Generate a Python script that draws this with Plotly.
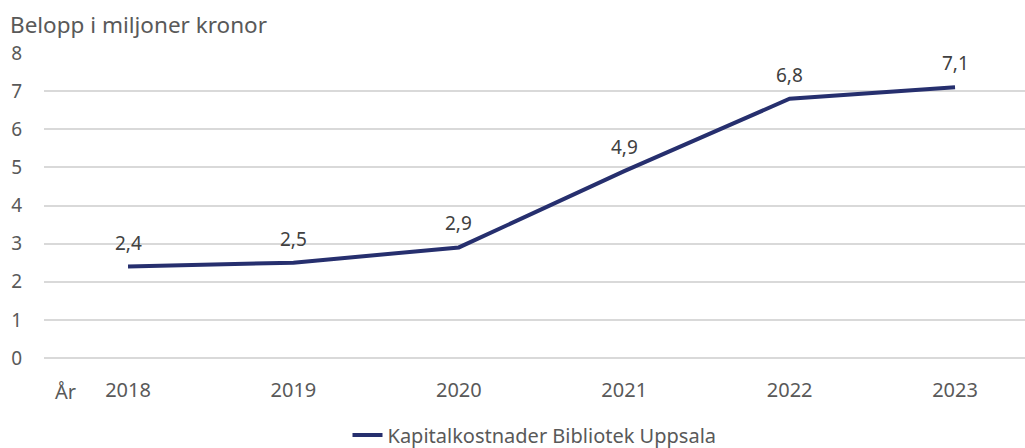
import plotly.graph_objects as go

years = ["2018", "2019", "2020", "2021", "2022", "2023"]
values = [2.4, 2.5, 2.9, 4.9, 6.8, 7.1]
labels = ["2,4", "2,5", "2,9", "4,9", "6,8", "7,1"]
series_name = "Kapitalkostnader Bibliotek Uppsala"
y_title = "Belopp i miljoner kronor"
x_title = "År"

FONT = "Noto Sans"
GREY = "#595959"
NAVY = "#262F6E"

xs = list(range(len(years)))

fig = go.Figure()
fig.add_trace(go.Scatter(
    x=xs, y=values, mode="lines",
    name=series_name,
    line=dict(color=NAVY, width=4),
))

for xi, yi, lab in zip(xs, values, labels):
    fig.add_annotation(x=xi, y=yi, text=lab, showarrow=False, yshift=24,
                       xanchor="center", yanchor="middle",
                       font=dict(family=FONT, size=19, color="#404040"))

fig.update_layout(
    width=1025, height=448,
    margin=dict(l=44, r=0, t=53, b=90, autoexpand=False),
    paper_bgcolor="white", plot_bgcolor="white",
    font=dict(family=FONT, size=19, color=GREY),
    showlegend=True,
    legend=dict(orientation="h", x=0.5, xanchor="center",
                y=(358 - 435) / 305, yanchor="middle",
                font=dict(family=FONT, size=20, color=GREY)),
    xaxis=dict(
        range=[-0.508, 5.423],
        tickmode="array", tickvals=xs, ticktext=years,
        showgrid=False, zeroline=False, showline=False,
        tickfont=dict(family=FONT, size=20, color=GREY),
        ticks="outside", ticklen=14, tickcolor="rgba(0,0,0,0)",
    ),
    yaxis=dict(
        range=[0, 8], dtick=1,
        showgrid=True, gridcolor="#D9D9D9", gridwidth=1.5,
        zeroline=True, zerolinecolor="#D9D9D9", zerolinewidth=1.5,
        showline=False,
        tickfont=dict(family=FONT, size=19, color=GREY),
        ticks="outside", ticklen=17, tickcolor="rgba(0,0,0,0)",
    ),
)

fig.add_annotation(text=y_title, xref="paper", yref="paper", x=-36/981, y=1,
                   xanchor="left", yanchor="bottom", yshift=11, showarrow=False,
                   font=dict(family=FONT, size=22.5, color=GREY))
fig.add_annotation(text=x_title, xref="paper", yref="paper", x=(53-44)/981, y=0,
                   xanchor="left", yanchor="top", yshift=-18, showarrow=False,
                   font=dict(family=FONT, size=20, color=GREY))

fig.write_html("out.html", config={"displayModeBar": False})

with open("out.html", "r", encoding="utf-8") as f:
    html = f.read()
html = html.replace("<body>", '<body style="margin:0;padding:0;overflow:hidden">', 1)
with open("out.html", "w", encoding="utf-8") as f:
    f.write(html)
